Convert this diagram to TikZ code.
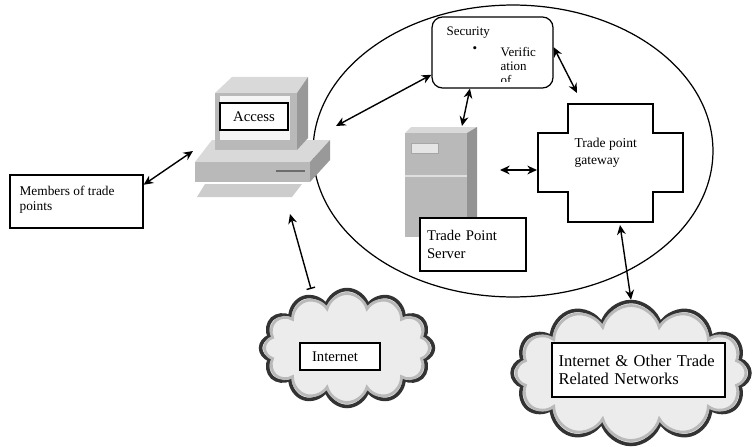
\documentclass[tikz,border=0pt]{standalone}
\usepackage{fontspec}
\setmainfont{Liberation Serif}
\usetikzlibrary{shapes.symbols,arrows.meta}

\begin{document}
\begin{tikzpicture}[x=0.02cm, y=-0.02cm, >={Stealth[length=5.5pt, width=5pt]}, line width=0.7pt,
		box/.style={draw, fill=white, align=left, inner sep=0pt, font=\fontsize{8}{9.6}\selectfont},
		small text/.style={inner sep=0pt, align=left, font=\fontsize{7.4}{8}\selectfont},
		cloud node/.style={cloud, cloud puffs=12, cloud ignores aspect, draw=black!80, line width=2pt, fill=gray!15},
		cloud shade/.style={cloud, cloud puffs=12, cloud ignores aspect, draw=gray!55, line width=1.6pt},
		link/.style={<->, line width=0.8pt}]

	\useasboundingbox (0,0) rectangle (753,446);

	% trade point area
	\draw (513,151) ellipse [x radius=4cm, y radius=2.92cm];

	% the access computer: base unit, monitor, keyboard
	\fill[gray!30] (212,140) -- (330,140) -- (310,162) -- (195,162) -- cycle;
	\fill[gray!55] (195,162) rectangle (310,182);
	\fill[gray!80] (310,162) -- (330,140) -- (330,160) -- (310,182) -- cycle;
	\draw[line width=1.5pt, gray!85!black] (276,171) -- (305,171);
	\fill[gray!30] (215,93) -- (232,77) -- (308,77) -- (297,93) -- cycle;
	\fill[gray!55] (215,93) rectangle (297,150);
	\fill[gray!80] (297,93) -- (308,77) -- (308,138) -- (297,150) -- cycle;
	\fill[gray!8] (220,96) rectangle (290,140);
	\fill[gray!40] (205,184) -- (302,184) -- (292,197) -- (197,197) -- cycle;
	\node[box, minimum width=1.36cm, minimum height=0.54cm, align=center, font=\fontsize{8.4}{10}\selectfont] (access) at (254,116.5) {Access};
	\coordinate (pc-w) at (193,151);
	\coordinate (pc-e) at (336,126);
	\coordinate (pc-s) at (290,214);

	% trade point server
	\fill[gray!30] (405,133) -- (411,127) -- (477,127) -- (467,133) -- cycle;
	\fill[gray!55] (405,133) rectangle (467,237);
	\fill[gray!85] (467,133) -- (477,127) -- (477,232) -- (467,237) -- cycle;
	\draw[gray!25, line width=1pt] (405,176) -- (467,176);
	\filldraw[fill=gray!20, draw=gray!70, line width=0.5pt] (411,143) rectangle (438,153);
	\node[box, minimum width=2.12cm, minimum height=1.06cm, text width=1.84cm, font=\fontsize{8.4}{9.8}\selectfont] (server) at (473,244.5) {Trade Point\\Server};
	\coordinate (srv-n) at (462,126);
	\coordinate (srv-e) at (500,170);

	% gateway
	\draw[fill=white] (568,104) -- (653,104) -- (653,133) -- (683,133) -- (683,192) -- (653,192)
		-- (653,222) -- (568,222) -- (568,192) -- (538,192) -- (538,133) -- (568,133) -- cycle;
	\node[small text, anchor=north west, font=\fontsize{7.7}{10}\selectfont] (gw) at (574,137) {Trade point\\gateway};
	\coordinate (gw-w) at (537,170);
	\coordinate (gw-n) at (577,93);
	\coordinate (gw-s) at (620,225);

	% security
	\node[draw, fill=white, rounded corners=6pt, minimum width=2.42cm, minimum height=1.42cm] (sec) at (492.5,52.5) {};
	\node[small text, anchor=west] (sec-title) at (446,33) {Security};
	\node[small text] (sec-dot) at (475,50) {\textbullet};
	\begin{scope}
		\clip (440,20) rectangle (550,82);
		\node[small text, anchor=north west] (sec-text) at (500,47) {Verific\\ation\\of};
	\end{scope}

	% members
	\node[box, minimum width=2.66cm, minimum height=1.06cm] (members) at (76.5,201.5) {};
	\node[small text, anchor=north west, font=\fontsize{7.6}{8.6}\selectfont] (members-text) at (19,185) {Members of trade\\points};

	% clouds
	\node[cloud node, minimum width=3.46cm, minimum height=2.34cm] (inet) at (347,348) {};
	\node[cloud shade, minimum width=3.3cm, minimum height=2.18cm] at (347,348) {};
	\node[box, minimum width=1.6cm, minimum height=0.54cm, text width=1.12cm, font=\fontsize{8.4}{10}\selectfont] (inet-label) at (340,356.5) {Internet};
	\coordinate (inet-n) at (311,289);

	\node[cloud node, minimum width=4.76cm, minimum height=2.86cm] (net) at (631,373) {};
	\node[cloud shade, minimum width=4.6cm, minimum height=2.7cm] at (631,373) {};
	\node[box, minimum width=3.46cm, minimum height=1.08cm, text width=3.2cm, font=\fontsize{9.4}{10.4}\selectfont] (net-label) at (638.5,370) {Internet \& Other Trade\\Related Networks};

	% connections
	\draw[link] (members.14) -- (pc-w);
	\draw[link] (pc-e) -- (sec.200);
	\draw[link] (sec.238) -- (srv-n);
	\draw[link] (sec.5) -- (gw-n);
	\draw[link] (srv-e) -- (gw-w);
	\draw[{Stealth[length=5.5pt, width=5pt]}-{Bar[width=5pt]}, line width=0.8pt] (pc-s) -- (inet-n);
	\draw[link] (gw-s) -- (net.north);
\end{tikzpicture}
\end{document}
